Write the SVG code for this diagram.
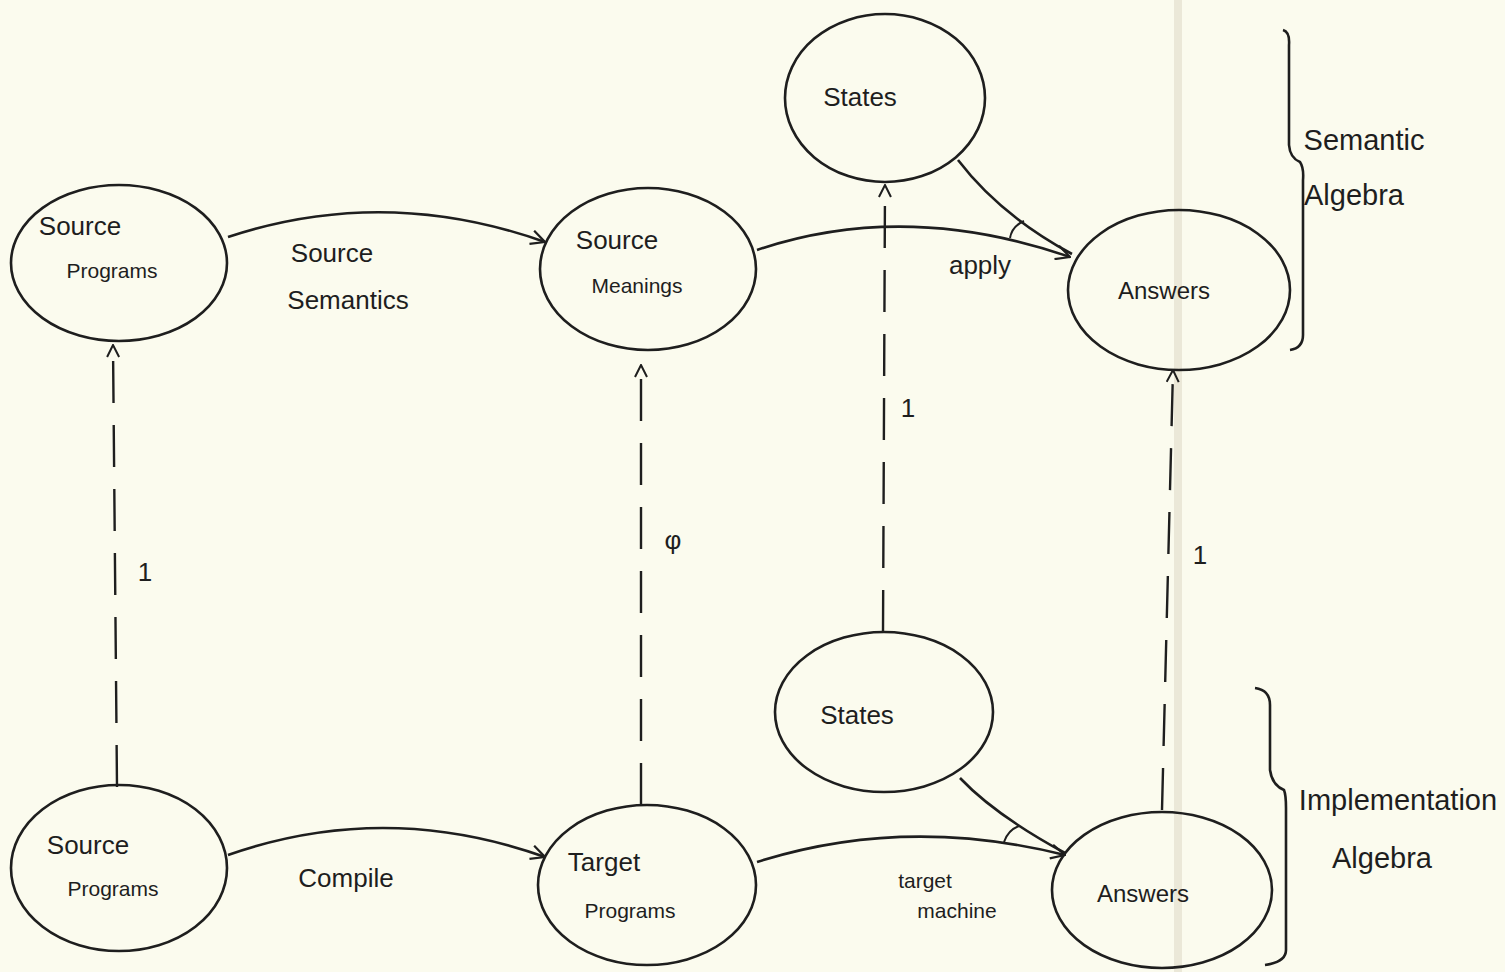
<svg xmlns="http://www.w3.org/2000/svg" width="1505" height="972" viewBox="0 0 1505 972">
<defs>
<style>
.node{fill:none;stroke:#1e1e1e;stroke-width:2.6}
.edge{fill:none;stroke:#1e1e1e;stroke-width:2.6}
.dash{fill:none;stroke:#1e1e1e;stroke-width:2.4;stroke-dasharray:42 22}
.mark{fill:none;stroke:#1e1e1e;stroke-width:2}
text{font-family:"Liberation Sans","DejaVu Sans",sans-serif;fill:#1e1e1e;text-anchor:middle;dominant-baseline:central}
.lbl{font-size:26px}
.sm{font-size:21px}
.ans{font-size:24px}
.big{font-size:29px}
</style>
<marker id="arr" viewBox="0 0 14 14" refX="13" refY="7" markerWidth="14" markerHeight="14" markerUnits="userSpaceOnUse" orient="auto">
<path d="M1,1 L13,7 L1,13" fill="none" stroke="#1e1e1e" stroke-width="2" stroke-dasharray="none"/>
</marker>
<marker id="arrL" viewBox="0 0 16 16" refX="15" refY="8" markerWidth="16" markerHeight="16" markerUnits="userSpaceOnUse" orient="auto">
<path d="M1,1 L15,8 L1,15" fill="none" stroke="#1e1e1e" stroke-width="2.2" stroke-dasharray="none"/>
</marker>
</defs>
<rect x="0" y="0" width="1505" height="972" fill="#fbfbee"/>
<rect x="1174" y="0" width="8" height="972" fill="#ebe8d8"/>

<g id="connectors">
<path class="edge" d="M228,237 Q385,185 545,242" marker-end="url(#arrL)"/>
<path class="edge" d="M757,250 Q905,200 1070,257" marker-end="url(#arrL)"/>
<path class="edge" d="M958,160 Q1000,215 1072,254"/>
<path class="mark" d="M1010,238 Q1012,226 1024,221"/>
<path class="edge" d="M228,855 Q385,800 545,857" marker-end="url(#arrL)"/>
<path class="edge" d="M757,862 Q905,815 1065,855" marker-end="url(#arrL)"/>
<path class="edge" d="M960,778 Q995,815 1065,853"/>
<path class="mark" d="M1004,842 Q1008,830 1019,826"/>
<path class="dash" d="M117,787 L113,345" marker-end="url(#arr)"/>
<path class="dash" d="M641,805 L641,365" marker-end="url(#arr)"/>
<path class="dash" d="M883,632 L885,185" marker-end="url(#arr)"/>
<path class="dash" d="M1162,810 L1173,370" marker-end="url(#arr)"/>
<text class="lbl" x="332" y="253">Source</text>
<text class="lbl" x="348" y="300">Semantics</text>
<text class="lbl" x="980" y="265">apply</text>
<text class="lbl" x="346" y="878">Compile</text>
<text class="sm" x="925" y="880">target</text>
<text class="sm" x="957" y="910">machine</text>
<text class="lbl" x="145" y="572">1</text>
<text class="lbl" x="673" y="540">φ</text>
<text class="lbl" x="908" y="408">1</text>
<text class="lbl" x="1200" y="555">1</text>
</g>

<g id="src-programs-top">
<ellipse class="node" cx="119" cy="263" rx="108" ry="78"/>
<text class="lbl" x="80" y="226">Source</text>
<text class="sm" x="112" y="270">Programs</text>
</g>
<g id="src-meanings">
<ellipse class="node" cx="648" cy="269" rx="108" ry="81"/>
<text class="lbl" x="617" y="240">Source</text>
<text class="sm" x="637" y="285">Meanings</text>
</g>
<g id="states-top">
<ellipse class="node" cx="885" cy="98" rx="100" ry="84"/>
<text class="lbl" x="860" y="97">States</text>
</g>
<g id="answers-top">
<ellipse class="node" cx="1179" cy="290" rx="111" ry="80"/>
<text class="ans" x="1164" y="290">Answers</text>
</g>
<g id="src-programs-bottom">
<ellipse class="node" cx="119" cy="868" rx="108" ry="83"/>
<text class="lbl" x="88" y="845">Source</text>
<text class="sm" x="113" y="888">Programs</text>
</g>
<g id="target-programs">
<ellipse class="node" cx="647" cy="885" rx="109" ry="80"/>
<text class="lbl" x="604" y="862">Target</text>
<text class="sm" x="630" y="910">Programs</text>
</g>
<g id="states-bottom">
<ellipse class="node" cx="884" cy="712" rx="109" ry="80"/>
<text class="lbl" x="857" y="715">States</text>
</g>
<g id="answers-bottom">
<ellipse class="node" cx="1162" cy="890" rx="110" ry="78"/>
<text class="ans" x="1143" y="893">Answers</text>
</g>

<g id="semantic-algebra">
<path class="edge" d="M1283,30 Q1290,32 1289,45 L1289,145 Q1290,158 1300,162 Q1304,168 1303,180 L1303,335 Q1303,348 1290,350"/>
<text class="big" x="1364" y="140">Semantic</text>
<text class="big" x="1354" y="195">Algebra</text>
</g>
<g id="implementation-algebra">
<path class="edge" d="M1255,688 Q1270,690 1270,705 L1270,770 Q1272,785 1284,790 Q1286,795 1286,808 L1286,950 Q1286,962 1265,965"/>
<text class="big" x="1398" y="800">Implementation</text>
<text class="big" x="1382" y="858">Algebra</text>
</g>
</svg>
